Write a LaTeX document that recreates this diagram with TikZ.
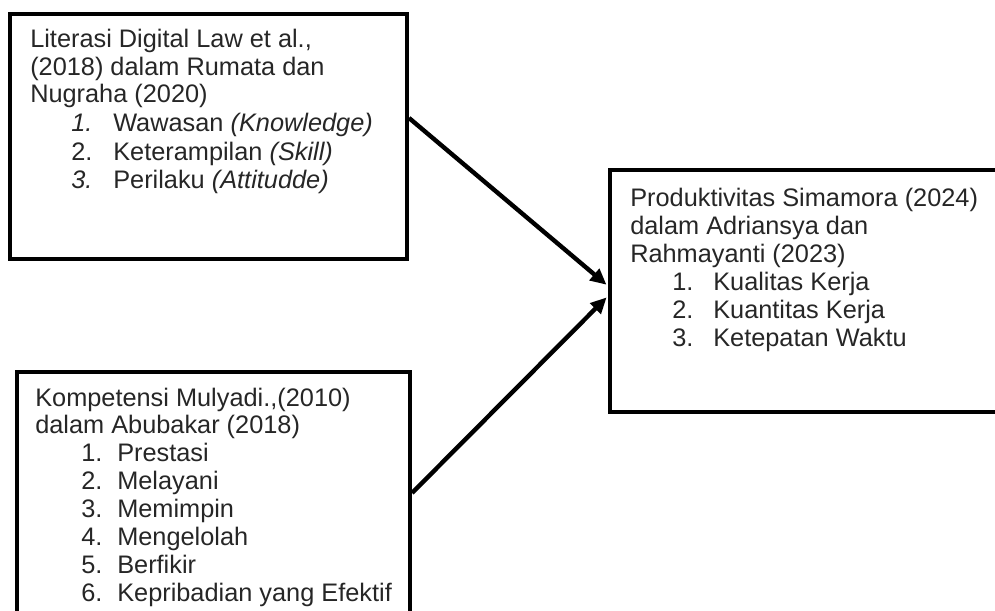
\documentclass[tikz,border=0pt]{standalone}
\usepackage{fontspec}
\setmainfont{Liberation Sans}
\usetikzlibrary{arrows.meta,fit}
\begin{document}
\begin{tikzpicture}[x=0.75pt,y=-0.75pt,
  box/.style={draw=black,line width=3pt,inner sep=0pt},
  txt/.style={anchor=base west,inner sep=0pt,font=\fontsize{19}{22}\selectfont,text=black!85},
  arr/.style={line width=3.3pt,-{Triangle[length=12pt,width=11pt]},shorten >=1.5pt}]
\useasboundingbox (0,0) rectangle (995,610);
% boxes
\coordinate (b1tl) at (10,14);  \coordinate (b1br) at (407,259);
\coordinate (b2tl) at (17,372); \coordinate (b2br) at (410,630);
\coordinate (b3tl) at (610,170); \coordinate (b3br) at (1010,412);
\node[box,fit=(b1tl)(b1br)] (b1) {};
\node[box,fit=(b2tl)(b2br)] (b2) {};
\node[box,fit=(b3tl)(b3br)] (b3) {};
% box 1 text
\node[txt] (t11) at (30,48) {Literasi Digital Law et al.,};
\node[txt] (t12) at (30,75) {(2018) dalam Rumata dan};
\node[txt] (t13) at (30,103) {Nugraha (2020)};
\node[txt] (n11) at (71,131) {\itshape 1.};
\node[txt] (i11) at (113,131) {Wawasan \textit{(Knowledge)}};
\node[txt] (n12) at (71,160) {2.};
\node[txt] (i12) at (113,160) {Keterampilan \textit{(Skill)}};
\node[txt] (n13) at (71,188) {\itshape 3.};
\node[txt] (i13) at (113,188) {Perilaku \textit{(Attitudde)}};
% box 2 text
\node[txt] (t21) at (35,406) {Kompetensi Mulyadi.,(2010)};
\node[txt] (t22) at (35,433) {dalam Abubakar (2018)};
\node[txt] (n21) at (81,461) {1.}; \node[txt] (i21) at (117,461) {Prestasi};
\node[txt] (n22) at (81,489) {2.}; \node[txt] (i22) at (117,489) {Melayani};
\node[txt] (n23) at (81,517) {3.}; \node[txt] (i23) at (117,517) {Memimpin};
\node[txt] (n24) at (81,545) {4.}; \node[txt] (i24) at (117,545) {Mengelolah};
\node[txt] (n25) at (81,573) {5.}; \node[txt] (i25) at (117,573) {Berfikir};
\node[txt] (n26) at (81,601) {6.}; \node[txt] (i26) at (117,601) {Kepribadian yang Efektif};
% box 3 text
\node[txt] (t31) at (630,206) {Produktivitas Simamora (2024)};
\node[txt] (t32) at (630,234) {dalam Adriansya dan};
\node[txt] (t33) at (630,262) {Rahmayanti (2023)};
\node[txt] (n31) at (672,290) {1.}; \node[txt] (i31) at (713,290) {Kualitas Kerja};
\node[txt] (n32) at (672,318) {2.}; \node[txt] (i32) at (713,318) {Kuantitas Kerja};
\node[txt] (n33) at (672,346) {3.}; \node[txt] (i33) at (713,346) {Ketepatan Waktu};
% arrows
\draw[arr] ([yshift=13.9pt]b1.east) -- ([yshift=3.75pt]b3.west);
\draw[arr] ([yshift=6pt]b2.east) -- ([yshift=-3.75pt]b3.west);
\end{tikzpicture}
\end{document}
